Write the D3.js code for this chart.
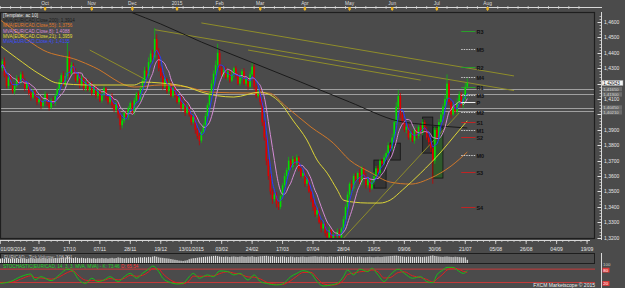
<!DOCTYPE html>
<html lang="en">
<head>
<meta charset="UTF-8">
<title>EUR/CAD daily</title>
<script src="https://cdn.jsdelivr.net/npm/d3@7"></script>
<style>
  html, body { margin: 0; padding: 0; background: #4b4b4b; }
  svg { display: block; }
  text { font-family: "Liberation Sans", Arial, sans-serif; }
</style>
</head>
<body>
<svg id="chart" width="625" height="288"></svg>
<script>
// daily closes EUR/CAD, 01/09/2014 .. 22/07/2015
const closes = [
  1.4300,1.4345,1.4250,1.4185,1.4240,1.4200,1.4150,1.4185,1.4235,1.4205,
  1.4260,1.4225,1.4170,1.4200,1.4140,1.4110,1.4150,1.4115,1.4080,1.4100,
  1.4055,1.4090,1.4130,1.4070,1.4045,1.4095,1.4075,1.4120,1.4165,1.4210,
  1.4255,1.4190,1.4250,1.4380,1.4265,1.4320,1.4280,1.4220,1.4255,1.4190,
  1.4235,1.4170,1.4210,1.4160,1.4200,1.4140,1.4180,1.4120,1.4155,1.4090,
  1.4130,1.4170,1.4110,1.4080,1.4120,1.4060,1.4030,1.4070,1.4000,1.3930,
  1.3960,1.4010,1.3985,1.4040,1.4075,1.4010,1.4090,1.4135,1.4100,1.4170,
  1.4220,1.4285,1.4250,1.4340,1.4395,1.4370,1.4490,1.4410,1.4300,1.4250,
  1.4180,1.4230,1.4150,1.4200,1.4120,1.4170,1.4130,1.4080,1.4110,1.4040,
  1.4070,1.4010,1.4050,1.4000,1.3950,1.3985,1.3900,1.3860,1.3830,1.3885,
  1.3930,1.3990,1.4060,1.4130,1.4200,1.4265,1.4320,1.4400,1.4300,1.4255,
  1.4290,1.4240,1.4280,1.4220,1.4260,1.4300,1.4250,1.4200,1.4240,1.4280,
  1.4200,1.4230,1.4180,1.4260,1.4310,1.4180,1.4120,1.4150,1.4080,1.3950,
  1.3850,1.3700,1.3600,1.3500,1.3450,1.3480,1.3420,1.3400,1.3470,1.3540,
  1.3600,1.3640,1.3700,1.3660,1.3710,1.3680,1.3720,1.3650,1.3600,1.3620,
  1.3550,1.3580,1.3500,1.3450,1.3400,1.3350,1.3380,1.3300,1.3260,1.3290,
  1.3230,1.3200,1.3250,1.3190,1.3220,1.3210,1.3240,1.3200,1.3260,1.3320,
  1.3400,1.3480,1.3550,1.3520,1.3600,1.3580,1.3620,1.3560,1.3650,1.3600,
  1.3540,1.3580,1.3520,1.3560,1.3600,1.3650,1.3620,1.3700,1.3680,1.3720,
  1.3750,1.3800,1.3780,1.3850,1.3950,1.4050,1.4120,1.4000,1.3950,1.3900,
  1.3920,1.3850,1.3880,1.3830,1.3900,1.3860,1.3920,1.3880,1.3950,1.3900,
  1.3850,1.3820,1.3780,1.3700,1.3900,1.3850,1.3950,1.4000,1.4050,1.4100,
  1.4200,1.4080,1.4000,1.4050,1.4020,1.4080,1.4130,1.4060,1.4100,1.4180,
  1.4204
];
// wick lengths above / below the body, in pips
const hiWick = [
  20,15,25,10,15,20,10,15,20,10, 15,20,10,15,10,20,15,10,15,10,
  15,10,20,10,15,10,20,15,10,20, 15,25,20,90,30,20,15,20,10,15,
  20,10,15,20,10,15,20,10,15,10, 20,15,10,15,10,20,10,15,10,20,
  15,10,20,15,10,15,20,10,15,20, 15,25,20,30,20,25,70,30,20,15,
  20,15,10,20,15,10,20,15,10,15, 10,20,15,10,15,20,10,15,20,10,
  15,20,15,20,25,20,30,60,25,20, 15,20,10,15,20,10,15,20,10,15,
  20,15,10,20,30,15,20,10,15,20, 15,20,10,15,20,10,15,20,10,15,
  20,15,25,10,20,15,20,10,15,20, 15,10,20,15,10,20,15,10,15,20,
  10,15,20,10,15,10,20,15,10,20, 15,20,10,25,15,20,10,25,15,10,
  20,15,10,20,25,15,20,10,15,20, 15,20,10,25,20,30,40,20,15,20,
  15,20,10,15,20,10,15,25,20,15, 20,15,10,30,20,15,20,25,20,30,
  60,20,15,20,15,25,20,15,20,25, 30
];
const loWick = [
  15,20,10,15,20,10,15,20,10,15, 10,15,20,10,15,20,10,15,20,10,
  20,15,10,15,20,10,15,20,10,15, 20,10,15,20,25,15,20,10,15,20,
  10,15,20,10,15,20,10,15,20,10, 15,10,20,15,10,20,15,20,25,30,
  20,15,10,20,15,10,15,20,10,15, 10,15,20,15,10,20,15,25,20,15,
  20,10,15,20,10,15,20,10,15,20, 15,20,10,15,20,10,25,20,30,15,
  10,15,10,15,10,15,10,20,15,20, 15,10,20,15,10,20,15,10,15,20,
  10,15,20,10,15,20,15,10,20,25, 20,30,25,20,30,15,25,20,15,10,
  15,20,10,15,20,10,15,20,10,15, 20,15,10,20,25,15,20,10,25,15,
  20,25,15,20,10,15,20,15,10,15, 10,15,20,10,15,20,10,15,20,15,
  20,15,25,10,15,20,10,15,20,10, 15,10,20,15,10,20,15,25,20,15,
  20,15,25,10,20,15,20,10,15,20, 15,20,25,150,20,15,10,15,20,10,
  15,20,25,10,15,20,10,15,20,10, 15
];
const volumes = [
  55,60,50,65,58,52,60,55,62,50, 58,54,60,52,57,63,55,50,58,60,
  54,62,57,50,60,55,58,63,56,60, 65,70,68,85,75,66,62,70,64,60,
  66,62,58,64,60,57,62,55,60,58, 63,58,61,55,60,64,58,62,70,66,
  62,58,64,60,66,62,68,64,70,72, 68,74,70,76,72,80,85,78,70,66,
  64,60,58,55,50,45,40,36,30,28, 25,30,35,48,55,60,62,66,70,72,
  75,78,80,82,85,88,90,86,80,78, 76,80,78,74,80,82,78,76,80,84,
  78,76,82,80,85,78,76,80,84,86, 88,90,85,82,86,80,78,76,80,82,
  78,74,76,80,78,72,76,74,78,80, 76,74,78,80,82,84,80,78,82,80,
  78,76,80,82,78,76,80,84,82,86, 84,80,78,82,76,74,78,80,76,72,
  74,76,78,74,72,76,78,74,76,80, 82,84,86,88,90,92,88,84,80,78,
  76,80,78,76,74,78,80,76,74,78, 80,84,90,95,88,84,80,78,76,80,
  82,78,76,74,78,76,74,72,70,72, 40
];

// moving averages: [candle index, price]
const ma200 = [[49,1.4743],[64,1.4665],[79,1.4587],[99,1.4470],[121,1.4353],[148,1.4210],
  [172,1.4081],[196,1.3957],[212,1.3931],[230,1.3912]];
const ma55 = [[0,1.4613],[10,1.4516],[21,1.4418],[38,1.4353],[46,1.4308],[66,1.4178],[79,1.4191],
  [92,1.4178],[103,1.4145],[123,1.4139],[132,1.4139],[141,1.4048],[153,1.3918],[164,1.3814],
  [172,1.3704],[182,1.3626],[192,1.3561],[202,1.3548],[212,1.3587],[222,1.3665],[230,1.3756]];
const ma21 = [[0,1.4444],[8,1.4366],[20,1.4256],[28,1.4204],[44,1.4191],[66,1.4191],[70,1.4210],
  [79,1.4204],[92,1.4178],[99,1.4145],[115,1.4113],[128,1.4145],[133,1.4126],[138,1.4074],
  [144,1.3964],[151,1.3834],[156,1.3704],[161,1.3619],[166,1.3509],[169,1.3444],[174,1.3431],
  [181,1.3425],[187,1.3425],[192,1.3444],[198,1.3509],[207,1.3619],[217,1.3756],[224,1.3866],[230,1.3959]];

// stochastic %K / %D: [candle index, value]
const stochK = [[0,16],[5,24],[10,46],[15,58],[17,31],[20,46],[25,28],[29,54],[33,80],[36,69],[38,39],
  [42,16],[45,39],[48,24],[51,31],[54,46],[58,24],[61,46],[64,61],[67,39],[70,61],[73,80],[75,94],
  [78,69],[80,39],[84,19],[87,13],[90,16],[93,46],[95,61],[98,39],[102,54],[105,46],[108,72],
  [112,69],[115,54],[118,61],[122,31],[125,54],[128,24],[131,16],[136,9],[139,13],[143,46],
  [146,61],[149,73],[153,61],[156,24],[159,4],[163,9],[166,16],[169,46],[171,76],[174,54],
  [177,80],[181,69],[183,84],[186,54],[189,24],[192,54],[196,80],[199,61],[203,39],[207,46],
  [210,24],[213,19],[215,54],[218,76],[220,88],[223,88],[225,76],[228,61],[230,73.46]];
const stochD = [[0,20],[5,20],[10,35],[15,50],[17,42],[20,40],[25,35],[29,45],[33,65],[36,72],[38,55],
  [42,30],[45,28],[48,30],[51,30],[54,38],[58,32],[61,38],[64,52],[67,48],[70,52],[73,68],[75,82],
  [78,80],[80,60],[84,30],[87,18],[90,14],[93,28],[95,48],[98,48],[102,48],[105,50],[108,60],
  [112,68],[115,62],[118,58],[122,45],[125,44],[128,36],[131,22],[136,12],[139,11],[143,28],
  [146,48],[149,65],[153,66],[156,40],[159,14],[163,8],[166,12],[169,30],[171,55],[174,62],
  [177,68],[181,72],[183,76],[186,68],[189,40],[192,42],[196,65],[199,68],[203,50],[207,42],
  [210,34],[213,22],[215,35],[218,58],[220,76],[223,84],[225,82],[228,70],[230,65.54]];

// pivot levels for the current week
const pivotNames  = ["R3","M5","R2","M4","R1","M3","P","M2","S1","M1","S2","M0","S3","S4"];
const pivotPrices = [1.4542,1.4425,1.4308,1.4243,1.4178,1.4126,1.4081,1.4016,1.3951,1.3899,1.3853,1.3736,1.3626,1.3399];

// hand drawn trend lines: [i0, p0, i1, p1]
const trendLines = [
  [76,1.4550,253,1.4155],
  [99,1.4594,253,1.4250],
  [122,1.4418,207,1.4223],
  [44,1.4418,72,1.4223],
  [169,1.3197,226,1.4010]
];
// drawn boxes: [i0, i1, top price, bottom price, kind]
const boxes = [
  [184,190,1.3704,1.3522,"dark"],
  [192,197,1.3814,1.3704,"dark"],
  [208,213,1.3983,1.3749,"dark"],
  [213,218,1.3918,1.3587,"green"]
];
// horizontal lines and their axis tags
const hLines = [1.4165,1.4130,1.4045,1.4021];
const lastPrice = 1.42043;

const monthIdx    = [22,45,65,87,108,128,150,172,193,215,240];
const monthLabels = ["Oct","Nov","Dec","2015","Feb","Mar","Apr","May","Jun","Jul","Aug"];
const dateIdx    = [0,19,34,49,64,79,94,109,124,139,154,169,184,199,214,229,244,259,274,289];
const dateLabels = ["01/09/2014","26/09","17/10","07/11","28/11","19/12","13/01/2015","03/02","24/02",
  "17/03","07/04","28/04","19/05","09/06","30/06","21/07","05/08","26/08","04/09","19/09"];

const legend = [
  {t: "[Template: ac 10]", c: "#e6e6e6"},
  {t: "MVA(EUR/CAD.Close,200): 1,3914", c: "#1c1c1c"},
  {t: "MVA(EUR/CAD.Close,55): 1,3756", c: "#e07a28"},
  {t: "MVA(EUR/CAD.Close,8): 1,4088", c: "#d890d8"},
  {t: "MVA(EUR/CAD.Close,21): 1,3959", c: "#e0dc3c"},
  {t: "MVA(EUR/CAD.Close,4): 1,4135", c: "#3a4cff"}
];

const W = 625, H = 288;
const plot = {l: 0, r: 595, t: 12, b: 239};
const svg = d3.select("#chart");

const x = d3.scaleLinear().domain([0, 290]).range([0.4, 589.1]);
const y = d3.scaleLinear().domain([1.32, 1.46]).range([237.7, 22]);
const yVol = d3.scaleLinear().domain([0, 100]).range([263, 255]);
const ySto = d3.scaleLinear().domain([0, 100]).range([286.9, 264.7]);

const fmt = v => d3.format(".4f")(v).replace(".", ",");
const fmt5 = v => d3.format(".5f")(v).replace(".", ",");

svg.append("rect").attr("width", W).attr("height", H).attr("fill", "#4b4b4b");

svg.append("clipPath").attr("id", "clipMain")
  .append("rect").attr("x", plot.l).attr("y", plot.t).attr("width", plot.r - plot.l).attr("height", plot.b - plot.t);

const mainG = svg.append("g").attr("clip-path", "url(#clipMain)");

// drawn boxes
mainG.selectAll(".bx").data(boxes).join("rect")
  .attr("x", d => x(d[0])).attr("width", d => x(d[1]) - x(d[0]))
  .attr("y", d => y(d[2])).attr("height", d => y(d[3]) - y(d[2]))
  .attr("fill", d => d[4] === "green" ? "#2f5a2c" : "#353535")
  .attr("stroke", "#141414").attr("stroke-width", 0.8);

// full-width horizontal lines
mainG.selectAll(".hl").data(hLines).join("line")
  .attr("x1", plot.l).attr("x2", plot.r)
  .attr("y1", d => Math.round(y(d)) + 0.5).attr("y2", d => Math.round(y(d)) + 0.5)
  .attr("stroke", "#a0a0a0").attr("stroke-width", 1);

// trend lines
mainG.selectAll(".tl").data(trendLines).join("line")
  .attr("x1", d => x(d[0])).attr("y1", d => y(d[1]))
  .attr("x2", d => x(d[2])).attr("y2", d => y(d[3]))
  .attr("stroke", "#8f8d2a").attr("stroke-width", 1);

// candles
const candles = closes.map((c, i) => {
  const o = i === 0 ? c : closes[i - 1];
  return {i, o, c,
    h: Math.max(o, c) + hiWick[i] / 10000,
    l: Math.min(o, c) - loWick[i] / 10000};
});
const cg = mainG.append("g");
cg.selectAll("line").data(candles).join("line")
  .attr("x1", d => x(d.i)).attr("x2", d => x(d.i))
  .attr("y1", d => y(d.h)).attr("y2", d => y(d.l))
  .attr("stroke", d => d.c >= d.o ? "#0fb80f" : "#c80000").attr("stroke-width", 0.8);
cg.selectAll("rect").data(candles).join("rect")
  .attr("x", d => x(d.i) - 0.8).attr("width", 1.6)
  .attr("y", d => y(Math.max(d.o, d.c)))
  .attr("height", d => Math.max(0.6, Math.abs(y(d.o) - y(d.c))))
  .attr("fill", d => d.c >= d.o ? "#00e000" : "#e00000");

// moving averages
const lineGen = d3.line().x(d => x(d[0])).y(d => y(d[1])).curve(d3.curveMonotoneX);
function sma(n) {
  return closes.map((c, i) => {
    const s = closes.slice(Math.max(0, i - n + 1), i + 1);
    return [i, d3.mean(s)];
  });
}
const maLines = [
  {d: ma200, c: "#1a1a1a"},
  {d: ma55, c: "#d0782a"},
  {d: ma21, c: "#dcd437"},
  {d: sma(8), c: "#d48ad4"},
  {d: sma(4), c: "#2a3cff"}
];
maLines.forEach(m => {
  mainG.append("path").attr("d", lineGen(m.d)).attr("fill", "none")
    .attr("stroke", m.c).attr("stroke-width", 1);
});

// pivot levels
const pg = svg.append("g");
pivotNames.forEach((n, k) => {
  const p = pivotPrices[k];
  const yy = Math.round(y(p)) + 0.5;
  let col = "#c8c8c8", dash = "1.5,1";
  if (n[0] === "R") { col = "#2aa02a"; dash = null; }
  if (n[0] === "S") { col = "#c02424"; dash = null; }
  if (n === "P") { col = "#f0f0f0"; dash = null; }
  pg.append("line").attr("x1", x(227)).attr("x2", x(234)).attr("y1", yy).attr("y2", yy)
    .attr("stroke", col).attr("stroke-width", 1).attr("stroke-dasharray", dash);
  pg.append("text").attr("x", x(234.5)).attr("y", yy + 2.5).attr("font-size", 5.5)
    .attr("font-weight", "bold").attr("fill", "#111").text(n);
});

// legend
legend.forEach((l, k) => {
  svg.append("text").attr("x", 3).attr("y", 17 + k * 5.2).attr("font-size", 4.6)
    .attr("fill", l.c).text(l.t);
});

// plot border
svg.append("rect").attr("x", plot.l + 0.5).attr("y", plot.t + 0.5)
  .attr("width", plot.r - plot.l - 1).attr("height", plot.b - plot.t - 1)
  .attr("fill", "none").attr("stroke", "#1e1e1e").attr("stroke-width", 1.2);

// top time strip
const topG = svg.append("g");
topG.append("line").attr("x1", 0).attr("x2", 602).attr("y1", 7.5).attr("y2", 7.5).attr("stroke", "#d8d8d8");
topG.selectAll(".mt").data(d3.range(0, 290, 5)).join("line")
  .attr("x1", d => x(d)).attr("x2", d => x(d)).attr("y1", 6).attr("y2", 9)
  .attr("stroke", "#d8d8d8").attr("stroke-width", 0.7);
monthIdx.forEach((m, k) => {
  const xx = x(m);
  topG.append("path").attr("d", `M${xx - 1.2},7 h2.4 v2.5 l-1.2,1.5 l-1.2,-1.5 z`).attr("fill", "#e8b020");
  topG.append("text").attr("x", xx).attr("y", 4.6).attr("text-anchor", "middle")
    .attr("font-size", 4.8).attr("fill", "#dcdcdc").text(monthLabels[k]);
});

// bottom date axis
const bx = svg.append("g");
bx.append("line").attr("x1", 0).attr("x2", 590).attr("y1", 240.5).attr("y2", 240.5).attr("stroke", "#d8d8d8");
bx.selectAll(".dt").data(d3.range(4, 290, 3)).join("line")
  .attr("x1", d => x(d)).attr("x2", d => x(d)).attr("y1", 240).attr("y2", 242)
  .attr("stroke", "#d8d8d8").attr("stroke-width", 0.7);
dateIdx.forEach((d, k) => {
  const xx = x(d);
  bx.append("line").attr("x1", xx).attr("x2", xx).attr("y1", 240).attr("y2", 244)
    .attr("stroke", "#e0e0e0").attr("stroke-width", 0.8);
  bx.append("text").attr("x", k === 0 ? 0.5 : xx).attr("y", 251)
    .attr("text-anchor", k === 0 ? "start" : "middle")
    .attr("font-size", 5).attr("fill", "#e6e6e6").text(dateLabels[k]);
});

// right price axis
const ax = svg.append("g");
ax.append("line").attr("x1", 601.5).attr("x2", 601.5).attr("y1", 12).attr("y2", 240).attr("stroke", "#d8d8d8");
d3.range(1.32, 1.4701, 0.002).forEach(v => {
  const yy = Math.round(y(v)) + 0.5;
  if (yy < 14) return;
  ax.append("line").attr("x1", 599.5).attr("x2", 601.5).attr("y1", yy).attr("y2", yy)
    .attr("stroke", "#d8d8d8").attr("stroke-width", 0.7);
});

// axis tags for the horizontal lines, pushed apart so they do not collide
const tags = hLines.map(v => ({v, yy: y(v)})).sort((a, b) => a.yy - b.yy);
for (let k = 1; k < tags.length; k++) {
  if (tags[k].yy - tags[k - 1].yy < 4.8) tags[k].yy = tags[k - 1].yy + 4.8;
}
const tagYs = tags.map(t => t.yy).concat([y(lastPrice)]);

y.ticks(14).forEach(v => {
  const yy = Math.round(y(v)) + 0.5;
  ax.append("line").attr("x1", 597.5).attr("x2", 601.5).attr("y1", yy).attr("y2", yy).attr("stroke", "#e0e0e0");
  if (tagYs.some(t => Math.abs(t - yy) < 4.6)) return;
  ax.append("text").attr("x", 604).attr("y", yy + 1.8).attr("font-size", 5)
    .attr("fill", "#e6e6e6").text(fmt(v));
});
tags.forEach(t => {
  ax.append("rect").attr("x", 602).attr("y", t.yy - 2.2).attr("width", 20).attr("height", 4.4).attr("fill", "#6a6a6a");
  ax.append("text").attr("x", 603.2).attr("y", t.yy + 1.5).attr("font-size", 4.3)
    .attr("fill", "#d4d4d4").text(fmt5(t.v));
});
{
  const yy = y(lastPrice);
  ax.append("rect").attr("x", 602).attr("y", yy - 2.6).attr("width", 21).attr("height", 5.2)
    .attr("fill", "#f4f4f4").attr("stroke", "#999").attr("stroke-width", 0.5);
  ax.append("text").attr("x", 603.3).attr("y", yy + 1.7).attr("font-size", 4.6)
    .attr("fill", "#111").text(fmt5(lastPrice));
}

// volume panel
const vp = svg.append("g");
vp.append("rect").attr("x", 0.5).attr("y", 253.5).attr("width", 594).attr("height", 10)
  .attr("fill", "#4b4b4b").attr("stroke", "#1e1e1e");
vp.selectAll(".vb").data(volumes).join("rect")
  .attr("x", (d, i) => x(i) - 0.6).attr("width", 1.2)
  .attr("y", d => yVol(d)).attr("height", d => 263 - yVol(d))
  .attr("fill", "#dcdcdc");
vp.append("text").attr("x", 4).attr("y", 258.6).attr("font-size", 4.6).attr("fill", "#bdbdbd")
  .text("EUR/CAD - Tick Volume: 108 201");
vp.append("line").attr("x1", 601.5).attr("x2", 601.5).attr("y1", 253).attr("y2", 288).attr("stroke", "#d8d8d8");

// stochastic panel
const sp = svg.append("g");
[80, 20].forEach(v => {
  sp.append("line").attr("x1", 0).attr("x2", 595).attr("y1", ySto(v)).attr("y2", ySto(v))
    .attr("stroke", "#c83a3a").attr("stroke-width", 1);
});
const stoLine = d3.line().x(d => x(d[0])).y(d => ySto(d[1])).curve(d3.curveMonotoneX);
sp.append("path").attr("d", stoLine(stochD)).attr("fill", "none").attr("stroke", "#e02020").attr("stroke-width", 1);
sp.append("path").attr("d", stoLine(stochK)).attr("fill", "none").attr("stroke", "#18c018").attr("stroke-width", 1);
const stLabel = sp.append("text").attr("x", 3).attr("y", 268.4).attr("font-size", 4.6);
stLabel.append("tspan").attr("fill", "#22d022").text("STOCHASTIC(EUR/CAD, 14, 3, 3, MVA, MVA) - K: 73.46 ");
stLabel.append("tspan").attr("fill", "#ff3030").text("D: 65.54");
sp.append("text").attr("x", 603).attr("y", 265.5).attr("font-size", 4.4).attr("fill", "#d0d0d0").text("100");
[80, 20].forEach(v => {
  const yy = ySto(v) + 1;
  sp.append("rect").attr("x", 602.5).attr("y", yy - 2.4).attr("width", 7).attr("height", 4.8).attr("fill", "#e03a3a");
  sp.append("text").attr("x", 603.3).attr("y", yy + 1.6).attr("font-size", 4.4).attr("fill", "#fff").text(v);
});
sp.append("text").attr("x", 595).attr("y", 286.5).attr("text-anchor", "end").attr("font-size", 5)
  .attr("fill", "#f0f0f0").text("FXCM Marketscope \u00a9 2015");
</script>
</body>
</html>
